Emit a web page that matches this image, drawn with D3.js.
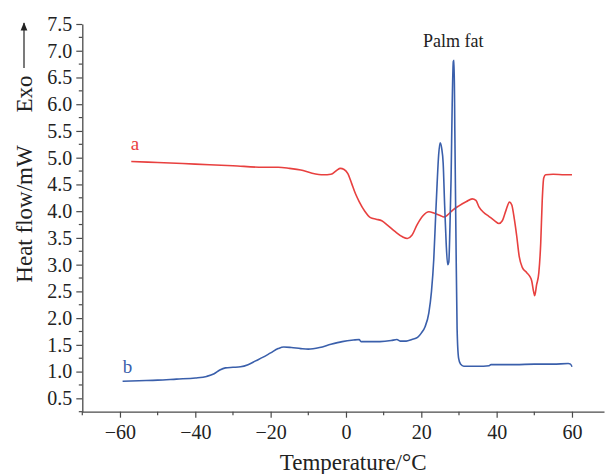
<!DOCTYPE html>
<html>
<head>
<meta charset="utf-8">
<script src="https://cdn.jsdelivr.net/npm/d3@7"></script>
<style>
  html, body { margin: 0; padding: 0; background: #fff; }
  svg { display: block; }
  text { font-family: "Liberation Serif", "Times New Roman", serif; }
</style>
</head>
<body>
<svg id="chart" width="605" height="474"></svg>
<script>
// ---- data ----
const xTicks = [-60, -40, -20, 0, 20, 40, 60];
const yTicks = [0.5, 1.0, 1.5, 2.0, 2.5, 3.0, 3.5, 4.0, 4.5, 5.0, 5.5, 6.0, 6.5, 7.0, 7.5];

const tempA = [-57, -50, -40, -30, -22, -18, -15, -12, -9, -6, -4, -2.5, -1.5, -0.5, 0.5, 1.5, 2.5, 3.5, 5, 6.5, 8, 9.5, 11, 13, 15, 16.3, 17.5, 18.9, 20.5, 22, 23.5, 25, 26, 27, 28.5, 30, 32, 33.5, 34.5, 35.3, 36.5, 38, 39.5, 40.6, 41.5, 42.5, 43.4, 44, 44.7, 45.3, 46, 46.8, 48, 48.8, 49.3, 49.8, 50.1, 50.6, 51.2, 51.7, 52.1, 52.5, 53, 55, 58, 60];
const flowA = [4.93, 4.91, 4.88, 4.85, 4.82, 4.82, 4.80, 4.77, 4.71, 4.68, 4.69, 4.76, 4.80, 4.78, 4.70, 4.52, 4.33, 4.18, 4.00, 3.88, 3.85, 3.82, 3.74, 3.62, 3.52, 3.49, 3.55, 3.75, 3.92, 3.99, 3.96, 3.92, 3.89, 3.93, 4.03, 4.10, 4.18, 4.23, 4.20, 4.08, 3.98, 3.90, 3.82, 3.77, 3.82, 4.02, 4.17, 4.12, 3.85, 3.55, 3.15, 2.95, 2.85, 2.78, 2.70, 2.50, 2.42, 2.62, 2.85, 3.40, 4.20, 4.62, 4.68, 4.69, 4.68, 4.68];

const tempB = [-59.3, -55, -50, -45, -40, -37, -35, -33.5, -32, -30, -28, -26, -24, -22, -20, -18, -16.5, -14.5, -12, -10, -7, -4, -1, 2, 3.5, 4, 6, 9, 12, 13.5, 14.5, 16, 17.5, 19, 20, 21, 22, 22.7, 23.3, 23.8, 24.2, 24.6, 25.0, 25.4, 25.8, 26.2, 26.6, 27.0, 27.3, 27.6, 27.9, 28.2, 28.5, 28.7, 28.9, 29.2, 29.5, 29.9, 30.4, 31.3, 35, 38, 38.5, 45, 50, 55, 59, 59.6, 60];
const flowB = [0.82, 0.83, 0.84, 0.86, 0.88, 0.91, 0.96, 1.03, 1.07, 1.08, 1.09, 1.13, 1.20, 1.27, 1.35, 1.43, 1.46, 1.45, 1.43, 1.42, 1.45, 1.51, 1.56, 1.59, 1.60, 1.56, 1.56, 1.56, 1.58, 1.60, 1.57, 1.57, 1.60, 1.64, 1.72, 1.84, 2.10, 2.50, 3.09, 3.90, 4.52, 5.05, 5.28, 5.18, 4.90, 4.10, 3.40, 3.00, 3.05, 3.70, 4.60, 6.00, 6.80, 6.82, 5.50, 3.50, 1.80, 1.25, 1.14, 1.10, 1.10, 1.11, 1.13, 1.13, 1.14, 1.14, 1.15, 1.14, 1.09];

// ---- layout ----
const svg = d3.select("#chart");
const x = d3.scaleLinear().domain([-70, 68.5]).range([82.3, 604]);
const y = d3.scaleLinear().domain([0.25, 7.5]).range([411.7, 24]);
const axisColor = "#4a4a4a";
const textColor = "#222";

// minor ticks
const xMinor = d3.range(-70, 70, 10).filter(v => !xTicks.includes(v));
const yMinor = d3.range(0.25, 7.5, 0.5).map(v => +v.toFixed(2));

const gx = svg.append("g").attr("transform", `translate(0,${y.range()[0]})`);
gx.call(d3.axisBottom(x).tickValues(xTicks).tickSize(6).tickSizeOuter(0)
  .tickFormat(d => d < 0 ? "\u2212" + Math.abs(d) : d));
gx.append("g").selectAll("line").data(xMinor).join("line")
  .attr("x1", d => x(d)).attr("x2", d => x(d)).attr("y1", 0).attr("y2", 3.5);

const gy = svg.append("g").attr("transform", `translate(${x.range()[0]},0)`);
gy.call(d3.axisLeft(y).tickValues(yTicks).tickSize(6).tickSizeOuter(0)
  .tickFormat(d3.format(".1f")));
gy.append("g").selectAll("line").data(yMinor).join("line")
  .attr("x1", 0).attr("x2", -3.5).attr("y1", d => y(d)).attr("y2", d => y(d));

[gx, gy].forEach(g => {
  g.selectAll("path.domain").attr("stroke", axisColor).attr("stroke-width", 1.3);
  g.selectAll("line").attr("stroke", axisColor).attr("stroke-width", 1.2);
  g.selectAll("text").attr("fill", textColor).style("font-size", "20px")
    .style("font-family", "'Liberation Serif', serif");
});
gx.selectAll(".tick text").attr("dy", "0.9em");
gy.selectAll(".tick text").attr("dx", "-1px");

// ---- lines ----
const line = d3.line().x(d => x(d[0])).y(d => y(d[1])).curve(d3.curveMonotoneX);
svg.append("path").datum(tempA.map((t, i) => [t, flowA[i]]))
  .attr("d", line).attr("fill", "none").attr("stroke", "#e8403f").attr("stroke-width", 1.6);
svg.append("path").datum(tempB.map((t, i) => [t, flowB[i]]))
  .attr("d", line).attr("fill", "none").attr("stroke", "#3a5fab").attr("stroke-width", 1.6);

// ---- labels ----
svg.append("text").attr("x", x(-56)).attr("y", y(5.15)).attr("text-anchor", "middle")
  .attr("fill", "#e8403f").style("font-size", "19px").text("a");
svg.append("text").attr("x", x(-58)).attr("y", y(0.98)).attr("text-anchor", "middle")
  .attr("fill", "#3a5fab").style("font-size", "19px").text("b");
svg.append("text").attr("x", x(28.5)).attr("y", y(7.07)).attr("text-anchor", "middle")
  .attr("fill", textColor).style("font-size", "18px").text("Palm fat");

// axis titles
svg.append("text").attr("x", (x.range()[0] + 604) / 2 + 10).attr("y", 470)
  .attr("text-anchor", "middle").attr("fill", textColor).style("font-size", "23px")
  .text("Temperature/\u00B0C");
svg.append("text").attr("transform", "translate(32,214) rotate(-90)")
  .attr("text-anchor", "middle").attr("fill", textColor).style("font-size", "23px")
  .text("Heat flow/mW");
svg.append("text").attr("transform", "translate(32,94) rotate(-90)")
  .attr("text-anchor", "middle").attr("fill", textColor).style("font-size", "23px")
  .text("Exo");
// arrow
const defs = svg.append("defs");
defs.append("marker").attr("id", "arr").attr("viewBox", "0 0 10 10")
  .attr("refX", 9).attr("refY", 5).attr("markerWidth", 7).attr("markerHeight", 7)
  .attr("orient", "auto").append("path").attr("d", "M0,1 L10,5 L0,9 Z").attr("fill", textColor);
svg.append("line").attr("x1", 24).attr("x2", 24).attr("y1", 68).attr("y2", 23)
  .attr("stroke", textColor).attr("stroke-width", 1.2).attr("marker-end", "url(#arr)");
</script>
</body>
</html>
